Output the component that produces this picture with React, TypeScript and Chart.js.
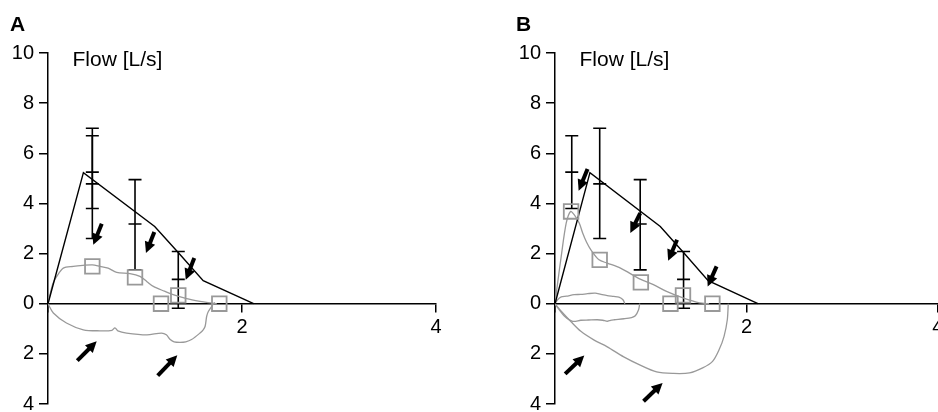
import React, { useEffect, useRef } from 'react';
import { Chart, registerables } from 'chart.js';

Chart.register(...registerables);

// ---------- axis ticks ----------
const xTickValues = [0, 2, 4];
const yTickValues = [-4, -2, 0, 2, 4, 6, 8, 10];

// ---------- predicted (normal) curve, both panels ----------
const volPred = [0, 0.365, 1.1, 1.34, 1.6, 2.12];
const flowPred = [0, 5.23, 3.08, 2.05, 0.92, 0];

// ---------- Panel A measured loop ----------
const volA_exp = [0, 0.02, 0.05, 0.09, 0.158, 0.26, 0.36, 0.457, 0.536, 0.62, 0.708, 0.845, 0.948, 1.02, 1.086, 1.2, 1.29, 1.43, 1.567, 1.65, 1.74];
const flowA_exp = [0, 0.35, 0.8, 1.09, 1.42, 1.49, 1.53, 1.55, 1.49, 1.42, 1.25, 1.2, 1.09, 0.88, 0.69, 0.5, 0.36, 0.2, 0.09, 0.04, 0];
const volA_insp = [1.72, 1.7, 1.653, 1.636, 1.62, 1.6, 1.567, 1.48, 1.42, 1.36, 1.3, 1.26, 1.22, 1.17, 1.02, 0.81, 0.72, 0.69, 0.66, 0.536, 0.364, 0.19, 0.055, 0];
const flowA_insp = [0.05, -0.04, -0.31, -0.5, -0.9, -1.04, -1.17, -1.43, -1.52, -1.54, -1.52, -1.43, -1.24, -1.17, -1.24, -1.17, -1.08, -0.96, -1.06, -1.08, -1.04, -0.77, -0.37, 0];

// ---------- Panel B measured loops ----------
const volB1_exp = [0, 0.025, 0.065, 0.12, 0.2, 0.27, 0.34, 0.42, 0.48, 0.546, 0.615, 0.667, 0.71, 0.73];
const flowB1_exp = [0, 0.15, 0.27, 0.3, 0.36, 0.37, 0.4, 0.42, 0.37, 0.32, 0.29, 0.26, 0.16, 0];
const volB1_insp = [0.885, 0.873, 0.839, 0.8, 0.72, 0.62, 0.58, 0.546, 0.5, 0.443, 0.35, 0.27, 0.185, 0.1, 0.03, 0];
const flowB1_insp = [0, -0.24, -0.48, -0.55, -0.6, -0.64, -0.66, -0.7, -0.66, -0.64, -0.65, -0.66, -0.7, -0.5, -0.17, 0];
const volB2_exp = [0, 0.03, 0.065, 0.117, 0.162, 0.2, 0.254, 0.289, 0.33, 0.375, 0.46, 0.546, 0.684, 0.89, 1.028, 1.165, 1.337, 1.51, 1.61];
const flowB2_exp = [0, 0.9, 1.89, 3.21, 3.68, 3.55, 3.21, 2.82, 2.45, 2.15, 1.75, 1.62, 1.42, 0.98, 0.76, 0.49, 0.23, 0.03, 0];
const volB2_insp = [1.81, 1.8, 1.766, 1.715, 1.646, 1.543, 1.405, 1.234, 1.062, 0.89, 0.718, 0.546, 0.409, 0.27, 0.168, 0.065, 0];
const flowB2_insp = [0, -0.64, -1.3, -1.83, -2.3, -2.56, -2.76, -2.78, -2.72, -2.45, -2.12, -1.72, -1.45, -1.1, -0.72, -0.3, 0];

// ---------- squares (measured points) ----------
const sqA_x = [0.457, 0.897, 1.165, 1.343, 1.766];
const sqA_y = [1.49, 1.05, 0, 0.33, 0];
const sqB_x = [0.168, 0.467, 0.897, 1.206, 1.337, 1.644];
const sqB_y = [3.68, 1.75, 0.85, 0, 0.33, 0];

// ---------- error bars (predicted mean +- range) ----------
const ebA_x = [0.457, 0.457, 0.897, 1.343];
const ebA_hi = [7.0, 6.7, 4.95, 2.08];
const ebA_mid = [4.78, 5.25, 3.18, 0.97];
const ebA_lo = [2.6, 3.8, 1.35, -0.18];
const ebB_x = [0.175, 0.467, 0.89, 1.343];
const ebB_hi = [6.7, 7.0, 4.95, 2.08];
const ebB_mid = [5.25, 4.78, 3.18, 0.97];
const ebB_lo = [3.8, 2.6, 1.35, -0.18];

// ---------- arrows (tail -> tip, data coords) ----------
const arA_tx = [0.554, 1.096, 1.508, 0.302, 1.131];
const arA_ty = [3.19, 2.86, 1.82, -2.27, -2.87];
const arA_hx = [0.467, 1.01, 1.42, 0.502, 1.333];
const arA_hy = [2.35, 2.02, 0.96, -1.5, -2.06];
const arB_tx = [0.34, 0.89, 1.275, 1.688, 0.106, 0.925];
const arB_ty = [5.37, 3.61, 2.55, 1.49, -2.8, -3.89];
const arB_hx = [0.247, 0.787, 1.182, 1.595, 0.306, 1.124];
const arB_hy = [4.51, 2.82, 1.71, 0.69, -2.07, -3.16];

const FONT = '"Liberation Sans", Arial, Helvetica, sans-serif';
const GRAY = '#999999';

const pts = (xs: number[], ys: number[]) => xs.map((x, i) => ({ x, y: ys[i] }));

function grayLine(xs: number[], ys: number[]) {
  return {
    type: 'line' as const,
    data: pts(xs, ys),
    borderColor: GRAY,
    borderWidth: 1.3,
    pointRadius: 0,
    tension: 0.3,
    fill: false,
    order: 5,
  };
}

function overlayPlugin(eb: { x: number[]; hi: number[]; mid: number[]; lo: number[] }, ar: { tx: number[]; ty: number[]; hx: number[]; hy: number[] }) {
  return {
    id: 'overlay',
    beforeDatasetsDraw(chart: any) {
      const { ctx, scales } = chart;
      const xs = scales.x;
      const ys = scales.y;
      ctx.save();
      ctx.strokeStyle = '#000';
      ctx.lineWidth = 1.6;
      const cap = 6.5;
      eb.x.forEach((xv, i) => {
        const px = xs.getPixelForValue(xv);
        const pHi = ys.getPixelForValue(eb.hi[i]);
        const pMid = ys.getPixelForValue(eb.mid[i]);
        const pLo = ys.getPixelForValue(eb.lo[i]);
        ctx.beginPath();
        ctx.moveTo(px, pHi);
        ctx.lineTo(px, pLo);
        [pHi, pMid, pLo].forEach((py) => {
          ctx.moveTo(px - cap, py);
          ctx.lineTo(px + cap, py);
        });
        ctx.stroke();
      });
      ctx.restore();
    },
    afterDatasetsDraw(chart: any) {
      const { ctx, scales } = chart;
      const xs = scales.x;
      const ys = scales.y;
      ctx.save();
      ctx.fillStyle = '#000';
      ctx.strokeStyle = '#000';
      ar.tx.forEach((tv, i) => {
        const x0 = xs.getPixelForValue(tv);
        const y0 = ys.getPixelForValue(ar.ty[i]);
        const x1 = xs.getPixelForValue(ar.hx[i]);
        const y1 = ys.getPixelForValue(ar.hy[i]);
        const dx = x1 - x0;
        const dy = y1 - y0;
        const len = Math.hypot(dx, dy);
        const ux = dx / len;
        const uy = dy / len;
        const nx = -uy;
        const ny = ux;
        const L = 11;
        const W = 5.5;
        ctx.lineWidth = 4;
        ctx.lineCap = 'butt';
        ctx.beginPath();
        ctx.moveTo(x0, y0);
        ctx.lineTo(x1 - ux * L * 0.8, y1 - uy * L * 0.8);
        ctx.stroke();
        ctx.beginPath();
        ctx.moveTo(x1, y1);
        ctx.lineTo(x1 - ux * L + nx * W, y1 - uy * L + ny * W);
        ctx.lineTo(x1 - ux * L - nx * W, y1 - uy * L - ny * W);
        ctx.closePath();
        ctx.fill();
      });
      ctx.restore();
    },
  };
}

function makeConfig(
  curves: any[],
  sqx: number[],
  sqy: number[],
  eb: any,
  ar: any,
  padding: { left: number; right: number; top: number; bottom: number }
) {
  return {
    type: 'line' as const,
    data: {
      datasets: [
        ...curves,
        {
          type: 'line' as const,
          data: pts(volPred, flowPred),
          borderColor: '#000',
          borderWidth: 1.4,
          pointRadius: 0,
          tension: 0,
          fill: false,
          order: 3,
        },
        {
          type: 'line' as const,
          data: pts(sqx, sqy),
          showLine: false,
          pointStyle: 'rect',
          pointRadius: 10.3,
          pointBorderColor: GRAY,
          pointBackgroundColor: 'rgba(0,0,0,0)',
          pointBorderWidth: 1.8,
          order: 1,
        },
      ],
    },
    options: {
      animation: false as const,
      responsive: false,
      events: [],
      layout: { padding },
      plugins: { legend: { display: false }, tooltip: { enabled: false }, title: { display: false } },
      scales: {
        x: {
          type: 'linear' as const,
          min: 0,
          max: 4,
          position: { y: 0 },
          afterBuildTicks: (s: any) => {
            s.ticks = xTickValues.map((v) => ({ value: v }));
          },
          afterFit: (s: any) => {
            s.paddingLeft = 0;
            s.paddingRight = 0;
          },
          ticks: {
            color: '#000',
            font: { family: FONT, size: 20 },
            padding: 4,
            maxRotation: 0,
            autoSkip: false,
            callback: (v: any) => (v === 0 ? '' : String(v)),
          },
          grid: { drawOnChartArea: false, drawTicks: true, tickLength: 8, color: '#000', lineWidth: 1.5 },
          border: { display: true, color: '#000', width: 1.5 },
        },
        y: {
          type: 'linear' as const,
          min: -4,
          max: 10,
          position: 'left' as const,
          afterBuildTicks: (s: any) => {
            s.ticks = yTickValues.map((v) => ({ value: v }));
          },
          afterFit: (s: any) => {
            s.width = 48;
            s.paddingTop = 0;
            s.paddingBottom = 0;
          },
          ticks: {
            color: '#000',
            font: { family: FONT, size: 20 },
            padding: 5,
            callback: (v: any) => String(Math.abs(Number(v))),
          },
          grid: { drawOnChartArea: false, drawTicks: true, tickLength: 9, color: '#000', lineWidth: 1.5 },
          border: { display: true, color: '#000', width: 1.5 },
        },
      },
    },
    plugins: [overlayPlugin(eb, ar)],
  };
}

const CANVAS_H = 440;

export default function App() {
  const refA = useRef<HTMLCanvasElement>(null);
  const refB = useRef<HTMLCanvasElement>(null);

  useEffect(() => {
    const cfgA = makeConfig(
      [grayLine(volA_exp, flowA_exp), grayLine(volA_insp, flowA_insp)],
      sqA_x,
      sqA_y,
      { x: ebA_x, hi: ebA_hi, mid: ebA_mid, lo: ebA_lo },
      { tx: arA_tx, ty: arA_ty, hx: arA_hx, hy: arA_hy },
      { left: 0, right: 34, top: 53, bottom: CANVAS_H - 404 }
    );
    const cfgB = makeConfig(
      [
        grayLine(volB1_exp, flowB1_exp),
        grayLine(volB1_insp, flowB1_insp),
        grayLine(volB2_exp, flowB2_exp),
        grayLine(volB2_insp, flowB2_insp),
      ],
      sqB_x,
      sqB_y,
      { x: ebB_x, hi: ebB_hi, mid: ebB_mid, lo: ebB_lo },
      { tx: arB_tx, ty: arB_ty, hx: arB_hx, hy: arB_hy },
      { left: 37, right: 7, top: 53, bottom: CANVAS_H - 404 }
    );
    const a = new Chart(refA.current as HTMLCanvasElement, cfgA as any);
    const b = new Chart(refB.current as HTMLCanvasElement, cfgB as any);
    return () => {
      a.destroy();
      b.destroy();
    };
  }, []);

  const panelLabel: React.CSSProperties = {
    position: 'absolute',
    top: 13,
    fontFamily: FONT,
    fontWeight: 'bold',
    fontSize: 21,
    lineHeight: '21px',
    color: '#000',
  };
  const flowLabel: React.CSSProperties = {
    position: 'absolute',
    top: 48,
    fontFamily: FONT,
    fontSize: 21,
    lineHeight: '21px',
    color: '#000',
    whiteSpace: 'nowrap',
  };

  return (
    <div
      style={{
        position: 'fixed',
        left: 0,
        top: 0,
        width: 938,
        height: 412,
        overflow: 'hidden',
        background: '#fff',
      }}
    >
      <canvas ref={refA} width={470} height={CANVAS_H} style={{ position: 'absolute', left: 0, top: 0 }} />
      <canvas ref={refB} width={480} height={CANVAS_H} style={{ position: 'absolute', left: 470, top: 0 }} />
      <div style={{ ...panelLabel, left: 10 }}>A</div>
      <div style={{ ...panelLabel, left: 516 }}>B</div>
      <div style={{ ...flowLabel, left: 72.5 }}>Flow [L/s]</div>
      <div style={{ ...flowLabel, left: 579.5 }}>Flow [L/s]</div>
    </div>
  );
}
